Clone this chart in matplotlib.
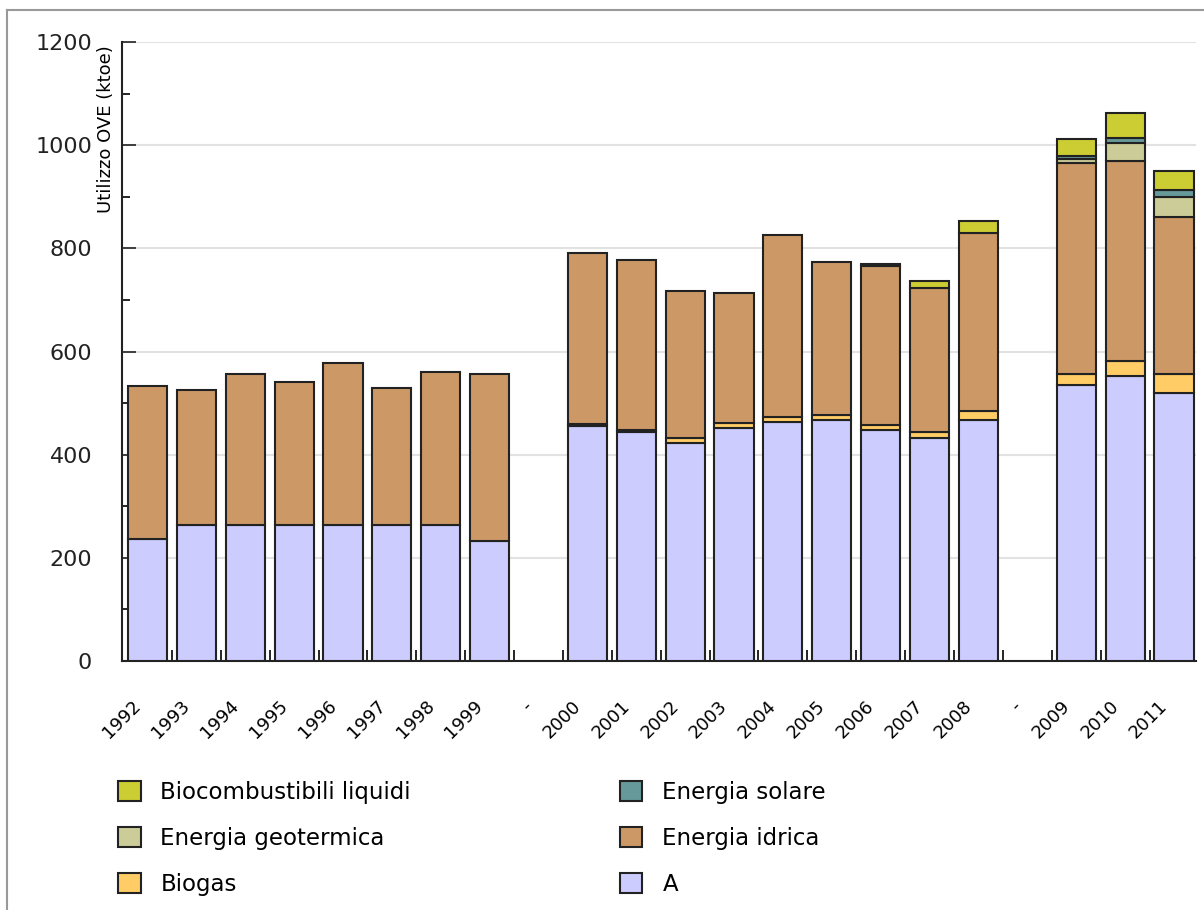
import numpy as np
import matplotlib.pyplot as plt
from matplotlib.patches import Patch
from matplotlib.lines import Line2D
import matplotlib.transforms as mtransforms

# Categorie (anni, con separatori "-")
anni = ['1992', '1993', '1994', '1995', '1996', '1997', '1998', '1999', '-',
        '2000', '2001', '2002', '2003', '2004', '2005', '2006', '2007', '2008', '-',
        '2009', '2010', '2011']

# Valori (ktoe); 0 per le colonne vuote
a_vals = [236, 264, 264, 264, 264, 264, 264, 233, 0,
          455, 443, 423, 451, 463, 468, 448, 432, 468, 0,
          536, 553, 520]
biogas = [0, 0, 0, 0, 0, 0, 0, 0, 0,
          4, 5, 9, 10, 10, 9, 9, 12, 17, 0,
          20, 28, 36]
idrica = [297, 261, 292, 277, 314, 265, 296, 323, 0,
          331, 329, 286, 252, 353, 296, 308, 280, 344, 0,
          409, 388, 305]
geotermica = [0, 0, 0, 0, 0, 0, 0, 0, 0,
              0, 0, 0, 0, 0, 0, 0, 0, 0, 0,
              8, 36, 39]
solare = [0, 0, 0, 0, 0, 0, 0, 0, 0,
          0, 0, 0, 0, 0, 0, 0, 0, 0, 0,
          6, 8, 13]
biocomb = [0, 0, 0, 0, 0, 0, 0, 0, 0,
           0, 0, 0, 0, 0, 0, 4, 13, 24, 0,
           32, 49, 37]

serie = [('A', a_vals, '#CCCCFF'),
         ('Biogas', biogas, '#FFCC66'),
         ('Energia idrica', idrica, '#CC9966'),
         ('Energia geotermica', geotermica, '#CCCC99'),
         ('Energia solare', solare, '#669999'),
         ('Biocombustibili liquidi', biocomb, '#CCCC33')]

fig = plt.figure(figsize=(12.04, 9.10), dpi=100)
ax = fig.add_axes([122 / 1204, 1 - 661 / 910, 1074 / 1204, 619 / 910])

x = np.arange(len(anni))
base = np.zeros(len(anni))
for nome, vals, col in serie:
    v = np.array(vals, dtype=float)
    m = v > 0
    ax.bar(x[m], v[m], width=0.8, bottom=base[m], color=col,
           edgecolor='#222222', linewidth=1.5, zorder=3)
    base += v

ax.set_xlim(-0.52, 21.45)
ax.set_ylim(0, 1200)
ax.set_yticks(np.arange(0, 1201, 200))
ax.set_yticks(np.arange(100, 1200, 200), minor=True)
ax.yaxis.grid(True, color='#e2e2e2', linewidth=1.5, zorder=0)
ax.tick_params(axis='y', which='major', direction='in', length=10, width=1.2,
               labelsize=16, pad=21.5, colors='#222222')
ax.tick_params(axis='y', which='minor', direction='in', length=6, width=1.2)

ax.set_xticks(x)
ax.set_xticklabels(anni, rotation=45, ha='right', va='top', fontsize=13)
ax.set_xticks(x[:-1] + 0.5, minor=True)
ax.tick_params(axis='x', which='major', length=0, pad=26)
ax.tick_params(axis='x', which='minor', direction='in', length=8, width=1.2)
sposta = mtransforms.ScaledTranslation(-3 / 100, 0, fig.dpi_scale_trans)
for lab in ax.get_xticklabels():
    lab.set_transform(lab.get_transform() + sposta)

for s in ['top', 'right']:
    ax.spines[s].set_visible(False)
for s in ['left', 'bottom']:
    ax.spines[s].set_linewidth(1.5)
    ax.spines[s].set_color('#222222')

ax.text(-0.0145, 0.995, 'Utilizzo OVE (ktoe)', transform=ax.transAxes,
        rotation=90, ha='center', va='top', fontsize=13)

# Legenda in basso, due colonne
ordine = [5, 3, 1, 4, 2, 0]
handles = [Patch(facecolor=serie[i][2], edgecolor='#222222', linewidth=1.5)
           for i in ordine]
labels = [serie[i][0] for i in ordine]
fig.legend(handles, labels, ncol=2, frameon=False, fontsize=16.5,
           loc='upper left', bbox_to_anchor=(97 / 1204, 1 - 760 / 910),
           handlelength=1.0, handleheight=1.0, handletextpad=0.87,
           labelspacing=1.0, columnspacing=9.1)

# cornice grigia (solo sopra e a sinistra)
fig.add_artist(Line2D([7 / 1204, 7 / 1204], [0, 1 - 10 / 910],
                      transform=fig.transFigure, color='#999999', lw=1.5))
fig.add_artist(Line2D([7 / 1204, 1], [1 - 10 / 910, 1 - 10 / 910],
                      transform=fig.transFigure, color='#999999', lw=1.5))

fig.savefig('out.png', dpi=100)
